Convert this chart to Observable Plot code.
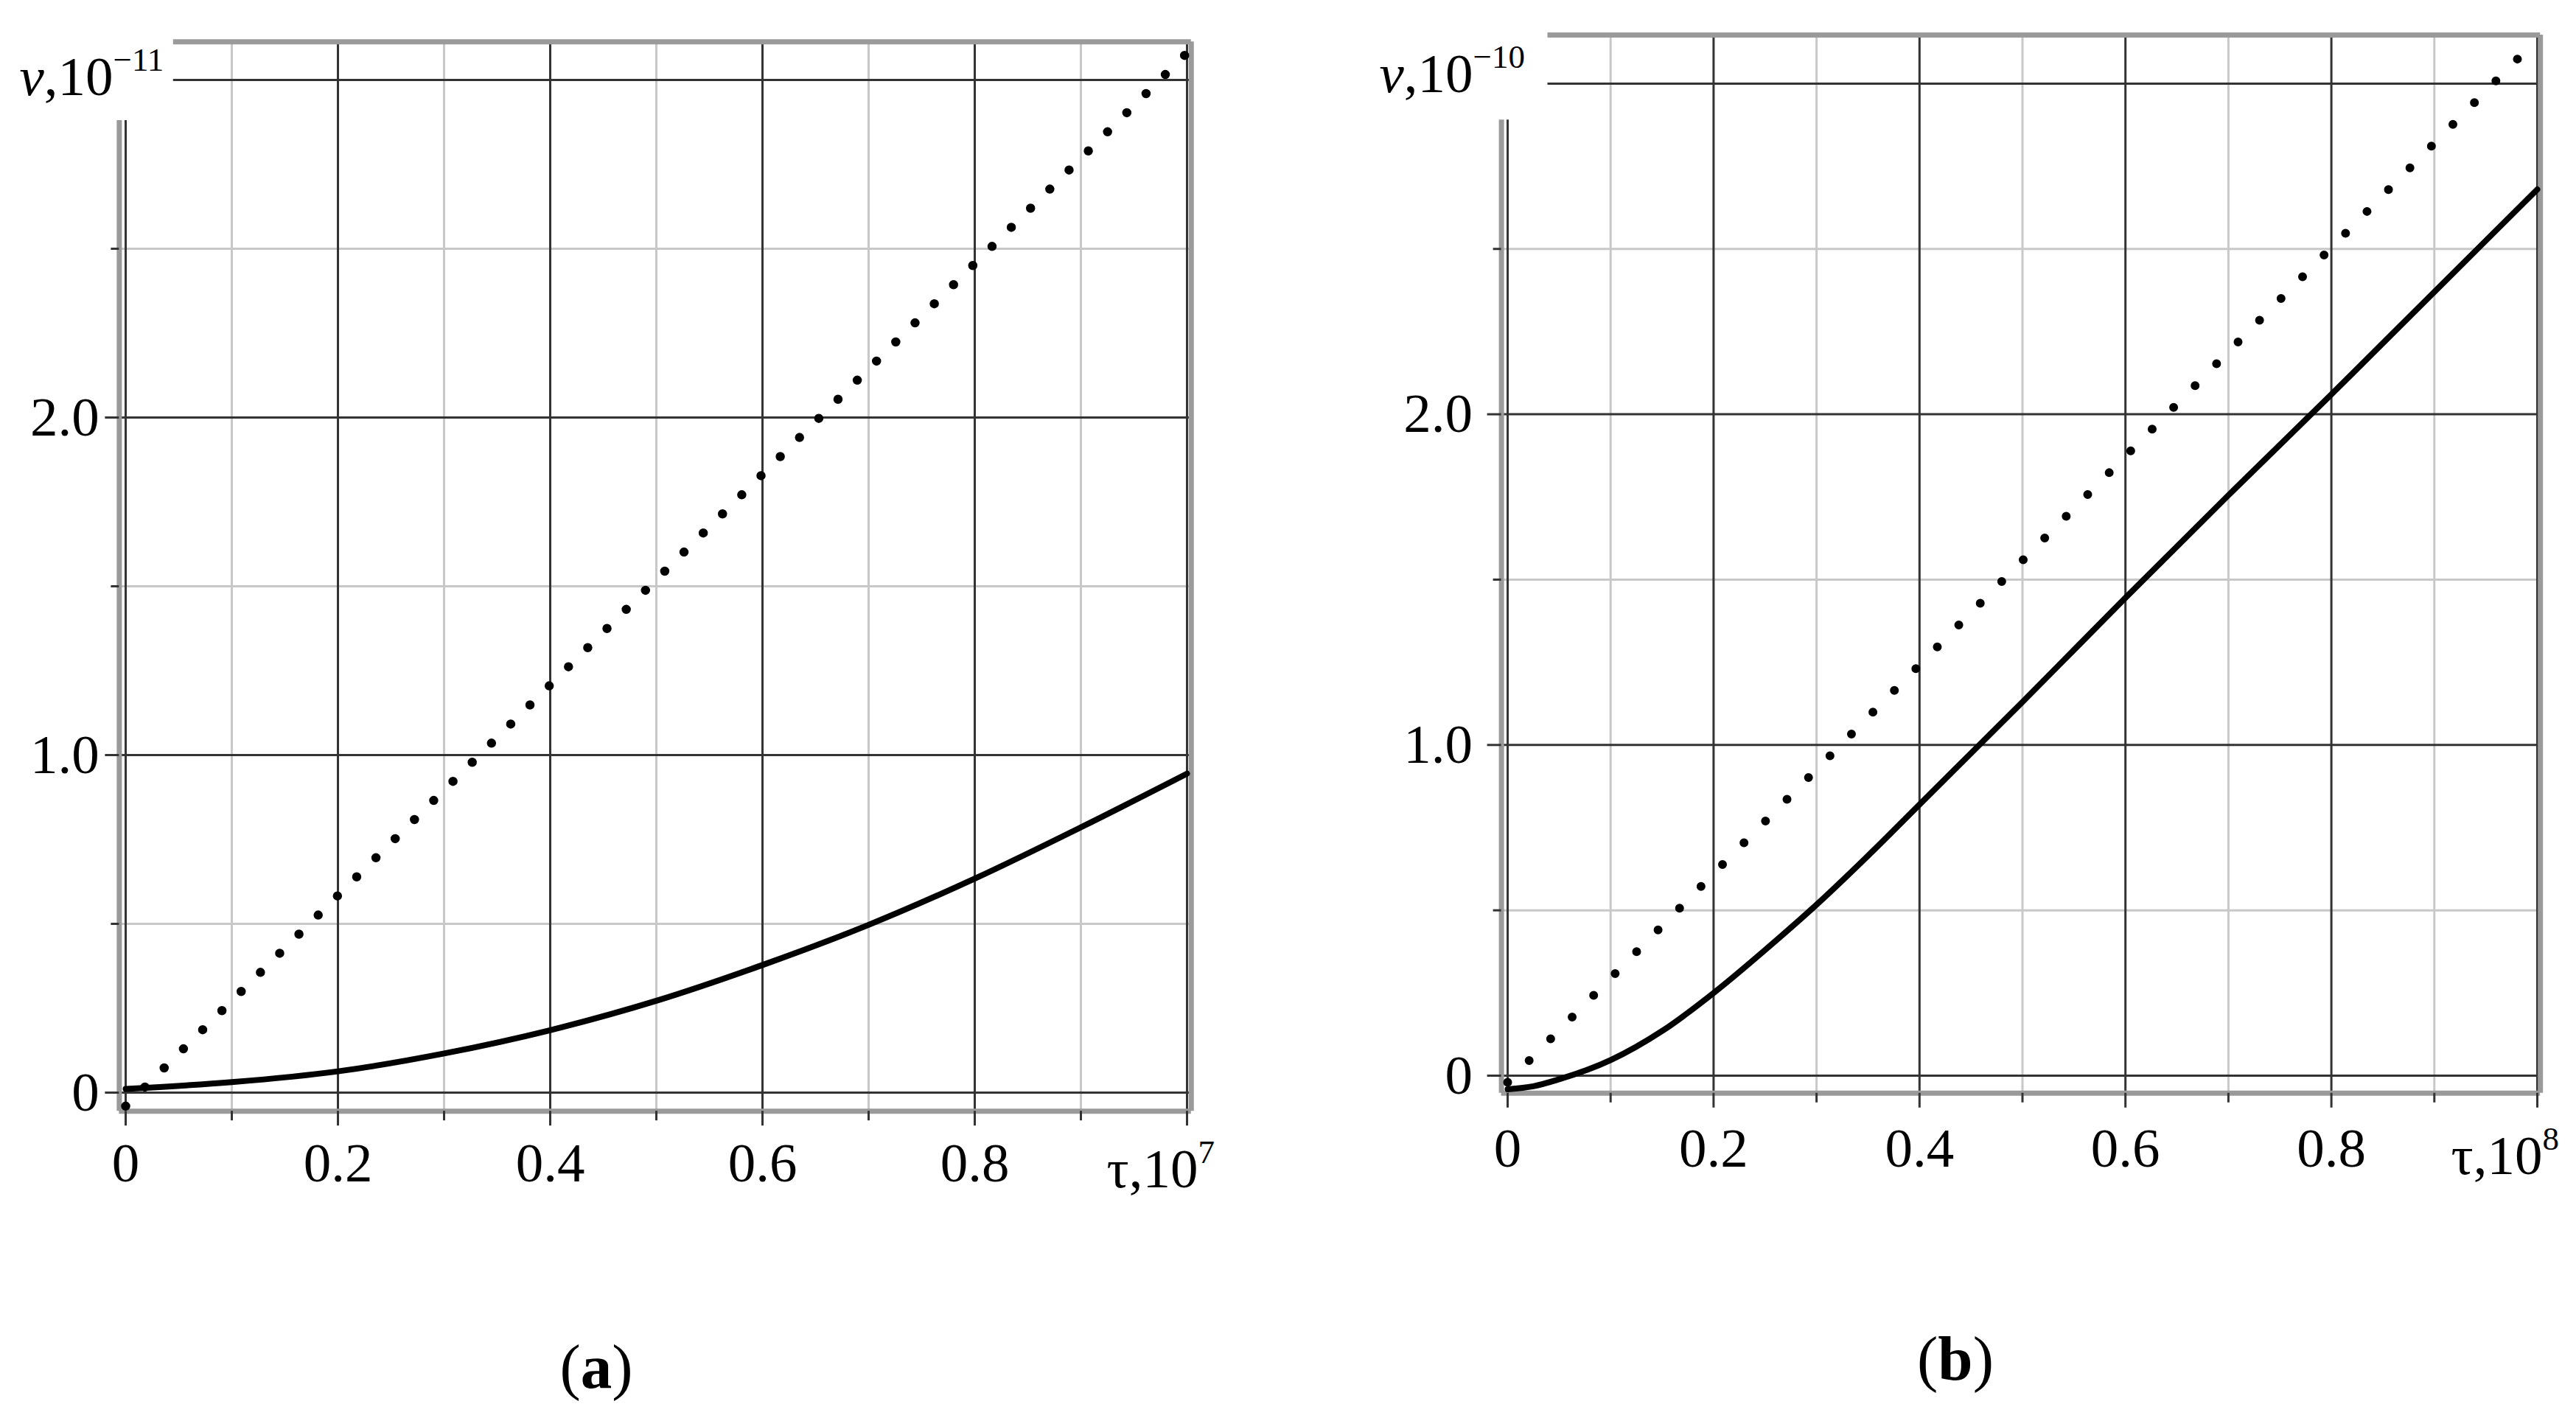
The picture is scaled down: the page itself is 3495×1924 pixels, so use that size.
<!DOCTYPE html>
<html>
<head>
<meta charset="utf-8">
<script src="https://cdn.jsdelivr.net/npm/d3@7"></script>
<script src="https://cdn.jsdelivr.net/npm/@observablehq/plot@0.6"></script>
<style>
  html, body { margin: 0; padding: 0; background: #fff; }
  #root { position: relative; width: 3495px; height: 1924px; overflow: hidden;
          font-family: "Liberation Serif", "Times New Roman", serif; }
  .panel { position: absolute; top: 0; }
  .cap { position: absolute; font-size: 85px; line-height: 1; white-space: nowrap;
         transform: translateX(-50%); color: #000; }
</style>
</head>
<body>
<div id="root"></div>
<script>
// ---------------- data ----------------
// panel (a): tau in units of 10^7, v in units of 10^-11
const tauA    = [0, 0.1, 0.2, 0.3, 0.4, 0.5, 0.6, 0.7, 0.8, 0.9, 1.0];
const solidA  = [0.011, 0.031, 0.063, 0.116, 0.185, 0.272, 0.378, 0.497, 0.634, 0.786, 0.945];
const dottedA = [-0.04, 0.272, 0.584, 0.896, 1.208, 1.52, 1.832, 2.144, 2.456, 2.768, 3.08];

// panel (b): tau in units of 10^8, v in units of 10^-10
const tauB    = [0, 0.025, 0.05, 0.1, 0.15, 0.2, 0.25, 0.3, 0.35, 0.4, 0.5, 0.6, 0.7, 0.8, 0.9, 1.0];
const solidB  = [-0.041, -0.032, -0.011, 0.047, 0.135, 0.25, 0.38, 0.517, 0.665, 0.82, 1.13, 1.445, 1.755, 2.06, 2.37, 2.68];
const tauDotB = [0, 0.1, 0.2, 0.3, 0.4, 0.5, 0.6, 0.7, 0.8, 0.9, 1.0];
const dottedB = [-0.02, 0.295, 0.611, 0.926, 1.242, 1.558, 1.873, 2.189, 2.504, 2.82, 3.135];

// ticks and labels
const xMajor = [0, 0.2, 0.4, 0.6, 0.8, 1.0];
const xMinor = [0.1, 0.3, 0.5, 0.7, 0.9];
const yMajor = [0, 1, 2, 3];
const yMinor = [0.5, 1.5, 2.5];
const xTickLabels = ["0", "0.2", "0.4", "0.6", "0.8"];
const yTickLabels = ["0", "1.0", "2.0"];
const yTitleA = ["v", ",10", "\u221211"];
const xTitleA = ["\u03C4", ",10", "7"];
const yTitleB = ["v", ",10", "\u221210"];
const xTitleB = ["\u03C4", ",10", "8"];
const captions = ["a", "b"];

// ---------------- layout / style ----------------
const H = 1700;
const FONT = '"Liberation Serif", "Times New Roman", serif';
const FS = 75;

const layouts = [
  { left: 0, width: 1750, x0: 170, xUnit: 1440, y0: 1482, yUnit: 458,
    xDom: [-0.006, 1.004], yDom: [-0.055, 3.113], gapStart: 0.045, axisTop: 2.88,
    yLabDx: -27, xLabDy: 95, yTitleDx: -144, yTitleDy: 20, xTitleDx: -109, xTitleDy: 103,
    dash: 36.8, dot: 12.5, capX: 809, capBase: 1883 },
  { left: 1750, width: 1745, x0: 2045, xUnit: 1397, y0: 1459, yUnit: 448.7,
    xDom: [-0.006, 1.003], yDom: [-0.053, 3.147], gapStart: 0.039, axisTop: 2.89,
    yLabDx: -39, xLabDy: 100, yTitleDx: -174, yTitleDy: 12, xTitleDx: -117, xTitleDy: 110,
    dash: 41.5, dot: 12, capX: 2653, capBase: 1872 }
];

const gridLight = { stroke: "#c8c8c8", strokeWidth: 3 };
const gridDark  = { stroke: "#333333", strokeWidth: 3 };
const frameSt   = { stroke: "#9a9a9a", strokeWidth: 7 };
const tickSt    = { stroke: "#333333", strokeWidth: 3 };

function makePanel(L, tauS, solid, tauD, dotted, yTitle, xTitle) {
  const [xmin, xmax] = L.xDom;
  const [ymin, ymax] = L.yDom;
  const pxL = L.x0 + xmin * L.xUnit - L.left;
  const pxR = L.x0 + xmax * L.xUnit - L.left;
  const pyT = L.y0 - ymax * L.yUnit;
  const pyB = L.y0 - ymin * L.yUnit;

  const solidData = tauS.map((t, i) => ({ t, v: solid[i] }));
  const dotData = tauD.map((t, i) => ({ t, v: dotted[i] }));

  const svg = Plot.plot({
    width: L.width,
    height: H,
    marginLeft: pxL,
    marginRight: L.width - pxR,
    marginTop: pyT,
    marginBottom: H - pyB,
    x: { domain: L.xDom },
    y: { domain: L.yDom },
    style: { fontFamily: FONT, fontSize: FS + "px", background: "white", color: "black", overflow: "visible" },
    marks: [
      // light grid
      Plot.ruleX(xMinor, { x: d => d, y1: ymin, y2: ymax, ...gridLight }),
      Plot.ruleY(yMinor, { y: d => d, x1: xmin, x2: xmax, ...gridLight }),
      // dark grid
      Plot.ruleX(xMajor.filter(d => d > 0), { x: d => d, y1: ymin, y2: ymax, ...gridDark }),
      Plot.ruleX(xMajor.filter(d => d === 0), { x: d => d, y1: ymin, y2: L.axisTop, ...gridDark }),
      Plot.ruleY(yMajor.slice(0, 3), { y: d => d, x1: xmin, x2: xmax, ...gridDark }),
      Plot.ruleY(yMajor.slice(3), { y: d => d, x1: L.gapStart, x2: xmax, ...gridDark }),
      // boxed frame
      Plot.ruleY([ymin], { y: d => d, x1: xmin, x2: xmax, ...frameSt }),
      Plot.ruleX([xmax], { x: d => d, y1: ymin, y2: ymax, ...frameSt }),
      Plot.ruleY([ymax], { y: d => d, x1: L.gapStart, x2: xmax, ...frameSt }),
      Plot.ruleX([xmin], { x: d => d, y1: ymin, y2: L.axisTop, ...frameSt }),
      // ticks
      Plot.axisX(xMajor, { anchor: "bottom", tickSize: 20, tickFormat: () => "", label: null, ...tickSt }),
      Plot.axisX(xMinor, { anchor: "bottom", tickSize: 13, tickFormat: () => "", label: null, ...tickSt }),
      Plot.axisY(yMajor.slice(0, 3), { anchor: "left", tickSize: 19, tickFormat: () => "", label: null, ...tickSt }),
      Plot.axisY(yMinor, { anchor: "left", tickSize: 11, tickFormat: () => "", label: null, ...tickSt }),
      // curves
      Plot.line(dotData, { x: "t", y: "v", stroke: "black", strokeWidth: L.dot,
                           strokeDasharray: `0 ${L.dash}`, strokeLinecap: "round" }),
      Plot.line(solidData, { x: "t", y: "v", stroke: "black", strokeWidth: 8, curve: "monotone-x" }),
      // tick labels
      Plot.text(yTickLabels, { y: (d, i) => yMajor[i], text: d => d, frameAnchor: "left",
                               textAnchor: "end", lineAnchor: "middle", dx: L.yLabDx, fontSize: FS, fill: "black" }),
      Plot.text(xTickLabels, { x: (d, i) => xMajor[i], text: d => d, frameAnchor: "bottom",
                               textAnchor: "middle", lineAnchor: "bottom", dy: L.xLabDy, fontSize: FS, fill: "black" }),
      // axis titles
      Plot.text([yTitle.join("|")], { x: () => xMajor[0], y: () => yMajor[3], text: d => d,
                               textAnchor: "start", lineAnchor: "bottom", dx: L.yTitleDx, dy: L.yTitleDy,
                               fontSize: FS, fill: "black" }),
      Plot.text([xTitle.join("|")], { x: () => xMajor[5], text: d => d, frameAnchor: "bottom",
                               textAnchor: "start", lineAnchor: "bottom", dx: L.xTitleDx, dy: L.xTitleDy,
                               fontSize: FS, fill: "black" })
    ]
  });

  // superscripts and italic v in the axis titles
  d3.select(svg).selectAll("text").each(function () {
    const s = this.textContent;
    if (!s.includes("|")) return;
    const [a, b, c] = s.split("|");
    const sel = d3.select(this);
    sel.text(null);
    sel.append("tspan").attr("font-style", a === "v" ? "italic" : null).text(a);
    sel.append("tspan").text(b);
    sel.append("tspan").attr("dy", -33).attr("font-size", Math.round(FS * 0.6)).text(c);
  });

  const holder = document.createElement("div");
  holder.className = "panel";
  holder.style.left = L.left + "px";
  holder.appendChild(svg);
  return holder;
}

const root = document.getElementById("root");
root.appendChild(makePanel(layouts[0], tauA, solidA, tauA, dottedA, yTitleA, xTitleA));
root.appendChild(makePanel(layouts[1], tauB, solidB, tauDotB, dottedB, yTitleB, xTitleB));

// captions (a), (b)
captions.forEach((c, i) => {
  const L = layouts[i];
  const div = document.createElement("div");
  div.className = "cap";
  div.style.left = L.capX + "px";
  div.style.top = (L.capBase - Math.round(85 * 0.8375)) + "px";
  div.innerHTML = "(<b>" + c + "</b>)";
  root.appendChild(div);
});
</script>
</body>
</html>
